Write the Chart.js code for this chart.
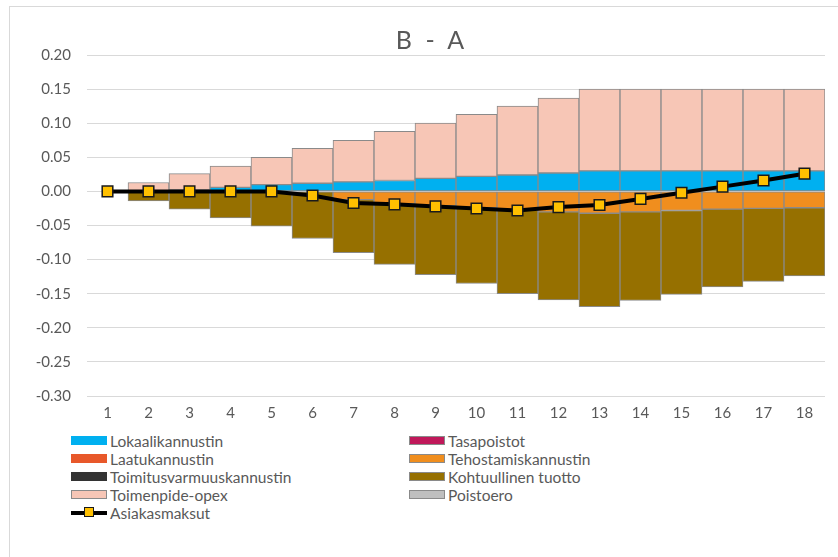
<!DOCTYPE html>
<html>
<head>
<meta charset="utf-8">
<script src="https://cdn.jsdelivr.net/npm/chart.js@4"></script>
<style>
  html, body { margin: 0; padding: 0; background: #fff; overflow: hidden; }
  body { width: 838px; height: 557px; position: relative; font-family: Lato, 'Open Sans', sans-serif; }
  #frame { position: absolute; left: 9px; top: 6px; width: 900px; height: 600px; border: 1px solid #d9d9d9; }
  #chart { position: absolute; left: 0; top: 0; }
  #title { position: absolute; left: 330px; width: 200px; top: 24px; height: 30px; line-height: 30px;
           text-align: center; font-size: 25px; color: #595959; word-spacing: 7px; }
  #legend { position: absolute; left: 0; top: 0; }
  .item { position: absolute; height: 18px; line-height: 18px; font-size: 15.5px; color: #595959; white-space: nowrap; }
  .swatch { position: absolute; left: 0; top: 4px; width: 36px; height: 9px; box-sizing: border-box; }
  .label { position: absolute; left: 39px; top: 0; }
</style>
</head>
<body>
<div id="frame"></div>
<canvas id="chart" width="838" height="426"></canvas>
<div id="title">B - A</div>
<div id="legend"></div>
<script>
// categories (years)
const categories = ['1','2','3','4','5','6','7','8','9','10','11','12','13','14','15','16','17','18'];

// series values
const lokaalikannustin = [0, 0.001, 0.002, 0.006, 0.010, 0.012, 0.014, 0.016, 0.019, 0.022, 0.024, 0.027, 0.030, 0.030, 0.030, 0.030, 0.030, 0.030];
const tasapoistot = [0, 0, 0, 0, 0, 0, 0, 0, 0, 0, 0, 0, 0, 0, 0, 0, 0, 0];
const laatukannustin = [0, 0, 0, 0, 0, 0, 0, 0, 0, 0, 0, 0, 0, 0, 0, 0, 0, 0];
const tehostamiskannustin = [0, 0, 0, 0, 0, 0, -0.012, -0.018, -0.021, -0.024, -0.027, -0.030, -0.032, -0.030, -0.028, -0.026, -0.025, -0.024];
const toimitusvarmuuskannustin = [0, 0, 0, 0, 0, 0, 0, 0, 0, 0, 0, 0, 0, 0, 0, 0, 0, 0];
const kohtuullinenTuotto = [0, -0.014, -0.026, -0.039, -0.051, -0.069, -0.078, -0.089, -0.101, -0.111, -0.123, -0.129, -0.137, -0.130, -0.123, -0.114, -0.107, -0.100];
const toimenpideOpex = [0, 0.012, 0.024, 0.031, 0.040, 0.051, 0.061, 0.072, 0.081, 0.091, 0.101, 0.110, 0.120, 0.120, 0.120, 0.120, 0.120, 0.120];
const poistoero = [0, 0, 0, 0, 0, 0, 0, 0, 0, 0, 0, 0, 0, 0, 0, 0, 0, 0];
const asiakasmaksut = [0, 0, 0, 0, 0, -0.006, -0.017, -0.019, -0.022, -0.025, -0.028, -0.023, -0.020, -0.011, -0.002, 0.007, 0.016, 0.026];

const GRAY_EDGE = '#8a8a8a';
const TEXT = '#595959';

function barSet(label, data, color, edge) {
    return {
        type: 'bar',
        label: label,
        data: data,
        backgroundColor: color,
        borderColor: GRAY_EDGE,
        borderWidth: 1,
        borderSkipped: false,
        barPercentage: 1,
        categoryPercentage: 1,
        stack: 'bars',
        legendEdge: edge
    };
}

const datasets = [
    barSet('Lokaalikannustin', lokaalikannustin, '#00B0F0', false),
    barSet('Tasapoistot', tasapoistot, '#C0185A', true),
    barSet('Laatukannustin', laatukannustin, '#E8582A', false),
    barSet('Tehostamiskannustin', tehostamiskannustin, '#F08E1E', true),
    barSet('Toimitusvarmuuskannustin', toimitusvarmuuskannustin, '#333333', false),
    barSet('Kohtuullinen tuotto', kohtuullinenTuotto, '#967000', true),
    barSet('Toimenpide-opex', toimenpideOpex, '#F7C6B6', true),
    barSet('Poistoero', poistoero, '#BFBFBF', true),
    {
        type: 'line',
        label: 'Asiakasmaksut',
        data: asiakasmaksut,
        borderColor: '#000000',
        borderWidth: 4,
        tension: 0,
        pointStyle: 'rect',
        pointRadius: 7.5,
        pointBackgroundColor: '#FFC000',
        pointBorderColor: '#1a1a1a',
        pointBorderWidth: 1.5,
        stack: 'line',
        order: -1
    }
];

new Chart(document.getElementById('chart').getContext('2d'), {
    data: { labels: categories, datasets: datasets },
    options: {
        responsive: false,
        animation: false,
        layout: { padding: { left: 0, right: 13, top: 55, bottom: 0 } },
        plugins: {
            legend: { display: false },
            tooltip: { enabled: false }
        },
        scales: {
            x: {
                stacked: true,
                grid: { display: false, drawTicks: false },
                border: { display: false },
                ticks: { color: TEXT, font: { family: 'Lato, sans-serif', size: 15 }, padding: 8 },
                afterFit: function(scale) { scale.height = 30; }
            },
            y: {
                stacked: true,
                min: -0.30,
                max: 0.20,
                grid: { color: '#d9d9d9', lineWidth: 1, drawTicks: false },
                border: { display: false },
                ticks: {
                    stepSize: 0.05,
                    color: TEXT,
                    font: { family: 'Lato, sans-serif', size: 15 },
                    padding: 16,
                    callback: function(v) { return Math.abs(v) < 1e-9 ? '0.00' : Number(v).toFixed(2); }
                },
                afterFit: function(scale) { scale.width = 87; }
            }
        }
    }
});

// Excel-style two column legend
const legend = document.getElementById('legend');
const colX = [71, 409];
const rowY = [432, 450, 468, 486, 504];
datasets.forEach(function(ds, i) {
    const item = document.createElement('div');
    item.className = 'item';
    item.style.left = colX[i % 2] + 'px';
    item.style.top = rowY[Math.floor(i / 2)] + 'px';
    const sw = document.createElement('div');
    sw.className = 'swatch';
    if (ds.type === 'line') {
        sw.style.height = '4px';
        sw.style.top = '7px';
        sw.style.background = '#000';
        const mk = document.createElement('div');
        mk.style.cssText = 'position:absolute;left:13px;top:-4px;width:10px;height:10px;box-sizing:border-box;background:#FFC000;border:1.5px solid #1a1a1a;';
        sw.appendChild(mk);
    } else {
        sw.style.background = ds.backgroundColor;
        if (ds.legendEdge) sw.style.border = '1.5px solid ' + GRAY_EDGE;
    }
    const tx = document.createElement('span');
    tx.className = 'label';
    tx.textContent = ds.label;
    item.appendChild(sw);
    item.appendChild(tx);
    legend.appendChild(item);
});
</script>
</body>
</html>
